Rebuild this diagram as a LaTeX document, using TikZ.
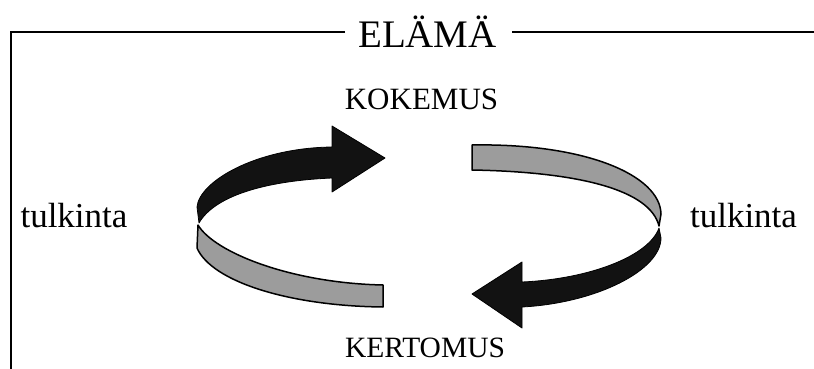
\documentclass[tikz,border=0pt]{standalone}
\usepackage{fontspec}
\setmainfont{Liberation Serif}
\begin{document}
\begin{tikzpicture}[x=1pt,y=-1pt,
  frameline/.style={line width=2.2pt},
  label/.style={inner sep=0pt,anchor=base,text=black},
  darkband/.style={fill=black!93,draw=black,line width=0.8pt,line join=round},
  lightband/.style={fill={rgb,255:red,156;green,156;blue,156},draw=black,line width=1.5pt,line join=round}]
\useasboundingbox (0,0) rectangle (814,369);

% texts
\node[label,font=\fontsize{39}{39}\selectfont] (title) at (427.5,48) {ELÄMÄ};
\node[label,font=\fontsize{31}{31}\selectfont] (kokemus) at (421.5,110) {KOKEMUS};
\node[label,font=\fontsize{29.5}{29.5}\selectfont] (kertomus) at (425,357) {KERTOMUS};
\node[label,font=\fontsize{35}{35}\selectfont] (tulkL) at (74,227) {tulkinta};
\node[label,font=\fontsize{35}{35}\selectfont] (tulkR) at (743.5,227) {tulkinta};

% frame around the picture
\coordinate (lineLend) at (345,32);
\coordinate (corner) at (11,32);
\coordinate (bottomL) at (11,369);
\coordinate (lineRstart) at (512,32);
\coordinate (lineRend) at (814,32);
\draw[frameline] (lineLend) -- (corner) -- (bottomL);
\draw[frameline] (lineRstart) -- (lineRend);

% left loop: light lower band
\draw[lightband] (198,225) .. controls (214,252) and (290,283) .. (383,285)
  -- (383,307) .. controls (290,306) and (212,282) .. (197,248) -- cycle;
% left loop: dark upper band ending in the arrow head
\draw[darkband] (197,207) .. controls (199,182) and (255,148) .. (332,147)
  -- (332,126) -- (385,158) -- (332,192) -- (332,178)
  .. controls (262,181) and (214,197) .. (199,223) -- cycle;

% right loop: light upper band
\draw[lightband] (472,145) .. controls (585,143) and (660,175) .. (661,214)
  -- (659,226) .. controls (650,190) and (580,172) .. (472,170) -- cycle;
% right loop: dark lower band ending in the arrow head
\draw[darkband] (659,228) .. controls (649,256) and (590,279) .. (522,282)
  -- (522,262) -- (472,294) -- (522,328) -- (522,307)
  .. controls (597,303) and (661,270) .. (661,238) -- cycle;
\end{tikzpicture}
\end{document}
